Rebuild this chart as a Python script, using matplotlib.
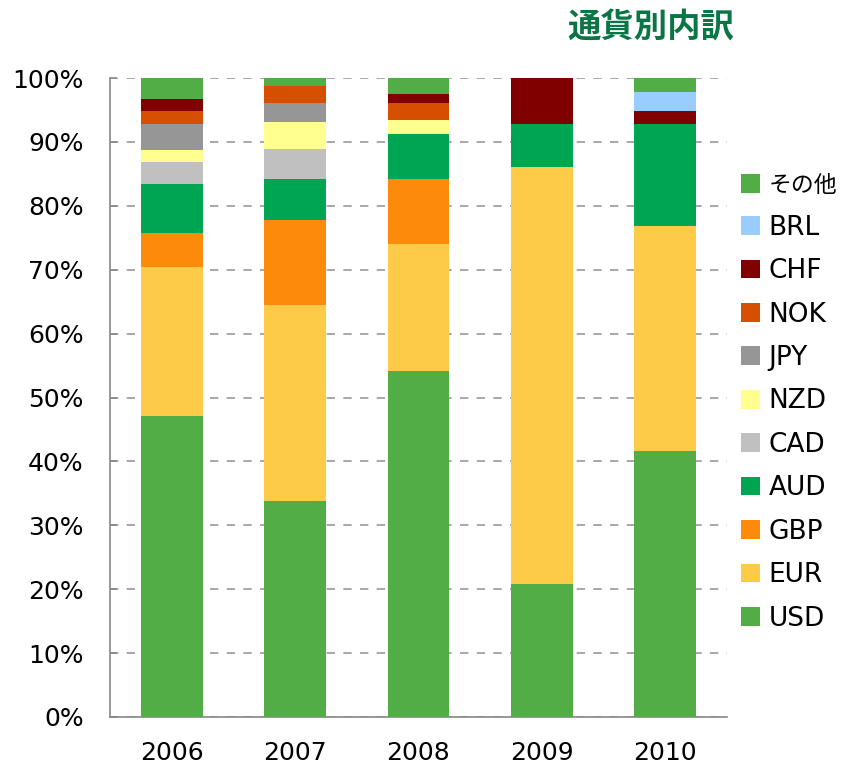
import numpy as np
import matplotlib
matplotlib.use("Agg")
import matplotlib.pyplot as plt
from matplotlib.patches import Patch

plt.rcParams['font.family'] = ['DejaVu Sans', 'Noto Sans CJK JP']

years = ['2006', '2007', '2008', '2009', '2010']
currencies = ['USD', 'EUR', 'GBP', 'AUD', 'CAD', 'NZD', 'JPY', 'NOK', 'CHF', 'BRL', 'その他']

# shares in % per year
usd = [47.1, 33.8, 54.1, 20.8, 41.6]
eur = [23.3, 30.7, 19.9, 65.3, 35.2]
gbp = [5.3, 13.3, 10.2, 0, 0]
aud = [7.7, 6.4, 7.0, 6.7, 16.0]
cad = [3.5, 4.7, 0, 0, 0]
nzd = [1.8, 4.2, 2.2, 0, 0]
jpy = [4.1, 3.0, 0, 0, 0]
nok = [2.0, 2.7, 2.7, 0, 0]
chf = [1.9, 0, 1.4, 7.2, 2.0]
brl = [0, 0, 0, 0, 3.0]
other = [3.3, 1.2, 2.5, 0, 2.2]

series = [usd, eur, gbp, aud, cad, nzd, jpy, nok, chf, brl, other]
colors = ['#52AD46', '#FDCB47', '#FD8A0A', '#00A551', '#C0C0C0', '#FFFF8F',
          '#969696', '#D64F00', '#800000', '#99CCFF', '#52AD46']

fig = plt.figure(figsize=(8.43, 7.66), dpi=100)
ax = fig.add_axes([110 / 843, 1 - 717 / 766, 617 / 843, 639 / 766])

x = np.arange(len(years))
bottom = np.zeros(len(years))
for vals, c in zip(series, colors):
    ax.bar(x, vals, width=0.5, bottom=bottom, color=c, zorder=3)
    bottom += np.array(vals)

ax.set_xlim(-0.5, 4.5)
ax.set_ylim(0, 100)
ax.set_yticks(np.arange(0, 101, 10))
ax.set_yticklabels([f'{v}%' for v in range(0, 101, 10)])
ax.set_xticks(x)
ax.set_xticklabels(years)
ax.tick_params(axis='y', direction='in', length=5, color='#888888', width=1.2,
               labelsize=18, pad=19)
ax.tick_params(axis='x', length=0, labelsize=18, pad=17)

ax.grid(axis='y', color='#999999', linestyle=(0, (5, 5)), linewidth=1.2, zorder=0)
for s in ['top', 'right']:
    ax.spines[s].set_visible(False)
for s in ['left', 'bottom']:
    ax.spines[s].set_color('#888888')
    ax.spines[s].set_linewidth(1.2)

handles = [Patch(facecolor=c, label=n) for n, c in zip(currencies, colors)][::-1]
leg = fig.legend(handles=handles, loc='upper left', bbox_to_anchor=(717 / 843, 1 - 150 / 766),
                 frameon=False, fontsize=19, handlelength=0.72, handleheight=0.72,
                 handletextpad=0.34, labelspacing=0.66)
leg.get_texts()[0].set_fontsize(16.5)

fig.text(651 / 843, 1 - 28 / 766, '通貨別内訳', ha='center', va='center',
         fontsize=24, fontweight='bold', color='#0B7545', family='Noto Sans CJK JP')

fig.savefig('out.png', dpi=100)
